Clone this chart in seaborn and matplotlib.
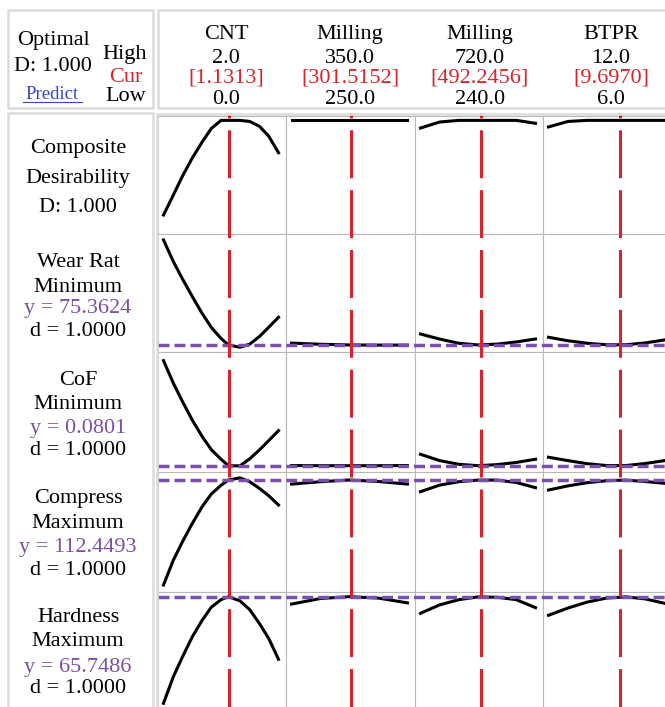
import matplotlib
matplotlib.use("Agg")
import matplotlib.pyplot as plt
import seaborn as sns
from matplotlib.patches import Rectangle
from matplotlib.lines import Line2D
from matplotlib.transforms import blended_transform_factory

# ---------------- data ----------------
factor_names = ["CNT", "Milling", "Milling", "BTPR"]
factor_low = [0.0, 250.0, 240.0, 6.0]
factor_high = [2.0, 350.0, 720.0, 12.0]
factor_cur = [1.1313, 301.5152, 492.2456, 9.6970]
high_labels = ["2.0", "350.0", "720.0", "12.0"]
cur_labels = ["[1.1313]", "[301.5152]", "[492.2456]", "[9.6970]"]
low_labels = ["0.0", "250.0", "240.0", "6.0"]

resp_names = ["Wear Rat", "CoF", "Compress", "Hardness"]
resp_goals = ["Minimum", "Minimum", "Maximum", "Maximum"]
resp_y = [75.3624, 0.0801, 112.4493, 65.7486]
resp_y_labels = ["y = 75.3624", "y = 0.0801", "y = 112.4493", "y = 65.7486"]
resp_d_labels = ["d = 1.0000", "d = 1.0000", "d = 1.0000", "d = 1.0000"]
composite_label = "D: 1.000"

# factor grids
cnt_x = [0.0, 0.17, 0.33, 0.5, 0.67, 0.83, 1.0, 1.13, 1.33, 1.5, 1.67, 1.83, 2.0]
speed_x = [250, 275, 300, 325, 350]
time_x = [240, 320, 400, 480, 560, 640, 720]
btpr_x = [6, 7, 8, 9, 10, 11, 12]

# composite desirability
comp_cnt = [0.134, 0.315, 0.49, 0.655, 0.80, 0.925, 1.0, 1.0, 1.0, 0.99, 0.945, 0.855, 0.704]
comp_speed = [1.0, 1.0, 1.0, 1.0, 1.0]
comp_time = [0.93, 0.985, 1.0, 1.0, 1.0, 1.0, 0.973]
comp_btpr = [0.94, 0.99, 1.0, 1.0, 1.0, 1.0, 1.0]

# wear rate
wear_cnt = [138.4, 125.5, 115.0, 104.5, 94.4, 86.0, 79.3, 75.36, 74.0, 75.9, 80.5, 86.0, 92.0]
wear_speed = [76.5, 75.8, 75.4, 75.3, 75.3]
wear_time = [81.96, 78.9, 76.4, 75.4, 75.9, 77.2, 78.96]
wear_btpr = [80.0, 77.9, 76.4, 75.5, 75.5, 76.6, 78.4]

# coefficient of friction
cof_cnt = [0.1484, 0.1338, 0.1218, 0.1098, 0.0992, 0.0906, 0.0843, 0.0801, 0.0800,
           0.0846, 0.0904, 0.0964, 0.1029]
cof_speed = [0.0802, 0.0801, 0.0801, 0.0801, 0.0802]
cof_time = [0.0875, 0.0834, 0.0810, 0.0801, 0.0808, 0.0822, 0.0843]
cof_btpr = [0.0856, 0.0834, 0.0814, 0.0802, 0.0802, 0.0815, 0.0834]

# compressive strength
comp_str_cnt = [59.95, 72.3, 81.6, 90.7, 99.0, 105.4, 109.8, 112.45, 113.5, 111.6,
                108.2, 104.6, 99.95]
comp_str_speed = [110.4, 111.6, 112.45, 111.7, 110.4]
comp_str_time = [106.6, 109.9, 111.6, 112.4, 112.4, 111.2, 108.6]
comp_str_btpr = [107.45, 109.5, 111.1, 112.1, 112.4, 111.7, 110.8]

# hardness
hard_cnt = [39.1, 45.7, 50.7, 55.7, 59.8, 63.1, 65.0, 65.75, 64.7, 62.5, 59.0, 55.3, 50.1]
hard_speed = [63.9, 65.3, 65.75, 65.4, 64.2]
hard_time = [61.6, 63.7, 65.0, 65.7, 65.6, 65.0, 63.0]
hard_btpr = [61.1, 62.9, 64.4, 65.4, 65.7, 65.2, 64.1]

factor_grids = [cnt_x, speed_x, time_x, btpr_x]
row_curves = [
    [comp_cnt, comp_speed, comp_time, comp_btpr],
    [wear_cnt, wear_speed, wear_time, wear_btpr],
    [cof_cnt, cof_speed, cof_time, cof_btpr],
    [comp_str_cnt, comp_str_speed, comp_str_time, comp_str_btpr],
    [hard_cnt, hard_speed, hard_time, hard_btpr],
]

# ---------------- layout ----------------
W, H = 665, 707
row_ylim = [(-0.04, 1.04), (71.16, 141.96), (0.0760, 0.1540), (56.45, 116.45), (37.17, 66.92)]
col_edges = [158, 286, 415, 543, 672]
row_edges = [116, 234, 352, 472, 592, 711]
pad_l, pad_r = 5.5 / 115.0, 7.5 / 115.0

RED = "#d7232b"
PURPLE = "#7b4fae"
PURPLE_TXT = "#7d4ea4"
BLUE = "#3448c0"
FRAME = "#dcdcdc"
GRID = "#b8b8b8"
FONT = "Liberation Serif"
FS = 16

plt.rcParams["lines.scale_dashes"] = False

def fx(px):
    return px / W

def fy(py):
    return 1 - py / H

fig = plt.figure(figsize=(W / 100, H / 100), dpi=100)
fig.patch.set_facecolor("white")

axes = []
for i in range(5):
    row = []
    for j in range(4):
        x0, x1 = col_edges[j], col_edges[j + 1]
        y0, y1 = row_edges[i], row_edges[i + 1]
        ax = fig.add_axes([fx(x0), fy(y1), (x1 - x0) / W, (y1 - y0) / H])
        sns.lineplot(x=factor_grids[j], y=row_curves[i][j], ax=ax, color="black",
                     linewidth=2.2, estimator=None, sort=False)
        lo, hi = factor_low[j], factor_high[j]
        rng = hi - lo
        ax.set_xlim(lo - pad_l * rng, hi + pad_r * rng)
        ax.set_ylim(*row_ylim[i])
        ax.set_xticks([])
        ax.set_yticks([])
        ax.set_xlabel("")
        ax.set_ylabel("")
        for s in ax.spines.values():
            s.set_color(GRID)
            s.set_linewidth(0.8)
        row.append(ax)
    axes.append(row)

# purple current-response lines
for i in range(1, 5):
    tr = blended_transform_factory(fig.transFigure, axes[i][0].transData)
    fig.add_artist(Line2D([fx(158), fx(672)], [resp_y[i - 1]] * 2, transform=tr,
                          color=PURPLE, lw=2.5, linestyle=(0, (7.9, 3.6)), zorder=3))

# red current-setting lines
for j in range(4):
    tr = blended_transform_factory(axes[0][j].transData, fig.transFigure)
    fig.add_artist(Line2D([factor_cur[j]] * 2, [fy(113), fy(710)], transform=tr,
                          color=RED, lw=2.2, linestyle=(31, (34.5, 8.6)), zorder=4))

# frames
def frame(x0, y0, x1, y1):
    fig.add_artist(Rectangle((fx(x0), fy(y1)), fx(x1) - fx(x0), fy(y0) - fy(y1),
                             transform=fig.transFigure, fill=False, edgecolor=FRAME,
                             lw=1.8, zorder=5))

frame(8, 10, 153, 108)
frame(158, 10, 720, 108)
frame(8, 113, 153, 730)
frame(157, 114, 720, 730)

def txt(x, y, s, color="black", size=FS):
    fig.text(fx(x), fy(y), s, ha="center", va="baseline", fontsize=size,
             family=FONT, color=color)

# header left
txt(53, 45, "Optimal")
txt(53, 71, composite_label)
txt(52, 99, "Predict", color=BLUE, size=13.5)
fig.add_artist(Line2D([fx(23), fx(82)], [fy(102)] * 2, transform=fig.transFigure,
                      color=BLUE, lw=0.8))
txt(125, 59, "High")
txt(126, 82, "Cur", color=RED)
txt(126, 101, "Low")

# factor headers
head_x = [226, 350, 480, 611]
for j in range(4):
    txt(head_x[j], 39, factor_names[j])
    txt(head_x[j], 63, high_labels[j])
    txt(head_x[j], 83, cur_labels[j], color=RED)
    txt(head_x[j], 104, low_labels[j])

# row labels
lab_x = 78
txt(lab_x, 153, "Composite")
txt(lab_x, 183, "Desirability")
txt(lab_x, 212, composite_label)
label_base = [[267, 292, 313, 336], [385, 409, 433, 455], [503, 528, 552, 575],
              [622, 646, 672, 693]]
for k in range(4):
    b = label_base[k]
    txt(lab_x, b[0], resp_names[k])
    txt(lab_x, b[1], resp_goals[k])
    txt(lab_x, b[2], resp_y_labels[k], color=PURPLE_TXT)
    txt(lab_x, b[3], resp_d_labels[k])

fig.savefig("out.png", dpi=100)
